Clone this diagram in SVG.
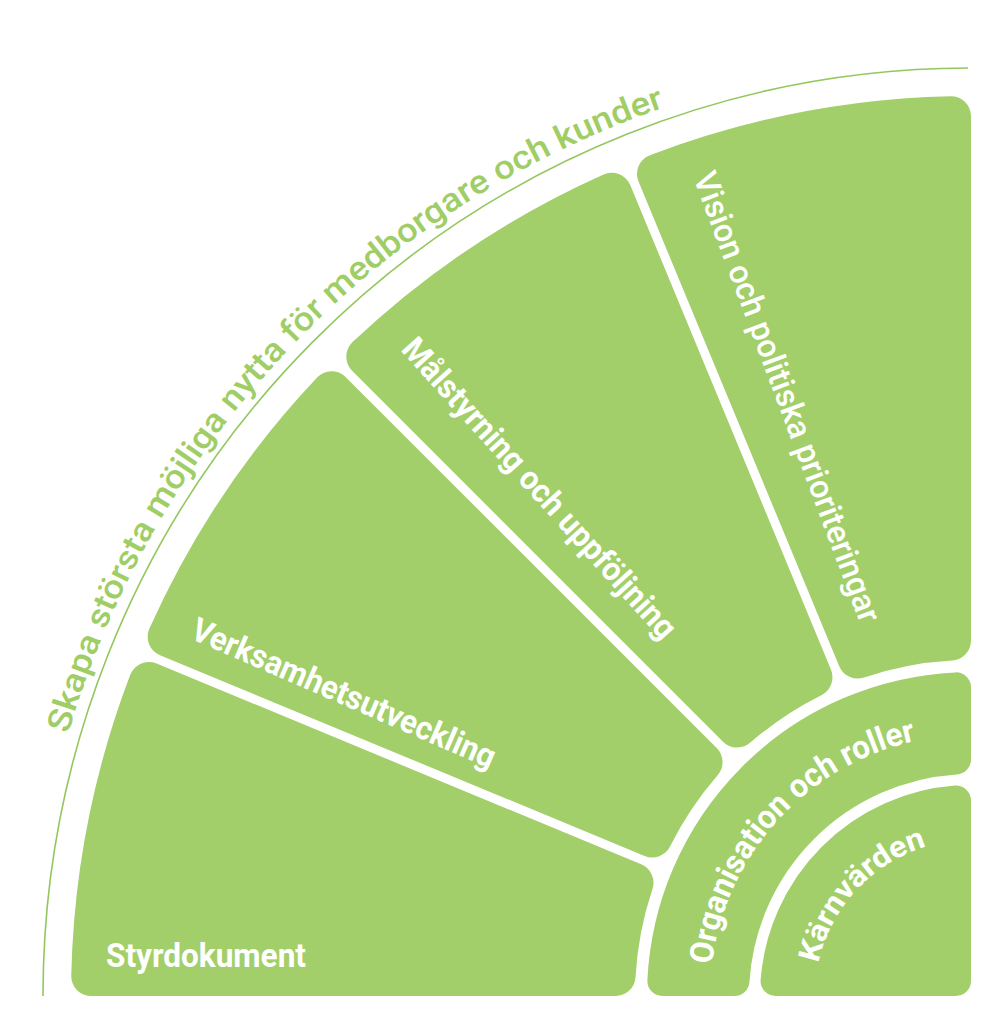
<svg xmlns="http://www.w3.org/2000/svg" width="1000" height="1014" viewBox="0 0 1000 1014">
  <style>
    .seg { fill: #a2cf69; stroke: #a2cf69; stroke-linejoin: round; }
    .outer { stroke-width: 40; }
    .inner { stroke-width: 30; }
    .lbl { fill: #ffffff; font-family: Roboto, "Liberation Sans", "DejaVu Sans", sans-serif; font-weight: 700; font-size: 33px; }
    .lbl-light { fill: #ffffff; font-family: Roboto, "Liberation Sans", "DejaVu Sans", sans-serif; font-weight: 500; font-size: 33px; }
    .motto { fill: #9fcd66; font-family: Roboto, "Liberation Sans", "DejaVu Sans", sans-serif; font-weight: 500; font-size: 33px; }
    .rim { fill: none; stroke: #93c75e; stroke-width: 1.6; }
  </style>
  <defs>
    <path id="p-outer" d="M 31 996 A 940 940 0 0 1 971 56"/>
    <path id="p-org" d="M 710 996 A 261 261 0 0 1 971 735"/>
    <path id="p-karn" d="M 815 996 A 156 156 0 0 1 971 840"/>
  </defs>
  <rect width="1000" height="1014" fill="#ffffff"/>

  <g id="rim">
    <path class="rim" d="M 43 996 A 928 928 0 0 1 968 68"/>
    <text class="motto"><textPath href="#p-outer" startOffset="265.6" textLength="899" lengthAdjust="spacingAndGlyphs">Skapa största möjliga nytta för medborgare och kunder</textPath></text>
  </g>

  <g id="styrdokument">
    <path class="seg outer" d="M 91.23 976 A 880 880 0 0 1 148.93 682.0 L 633.50 882.72 A 356 356 0 0 0 615.56 976 Z"/>
    <text class="lbl" x="106" y="967" textLength="200" lengthAdjust="spacingAndGlyphs">Styrdokument</text>
  </g>

  <g id="verksamhetsutveckling">
    <path class="seg outer" d="M 167.67 636.74 A 880 880 0 0 1 331.65 391.29 L 702.54 762.19 A 356 356 0 0 0 652.24 837.45 Z"/>
    <text class="lbl" transform="translate(189 638) rotate(23.5)" x="0" y="0" textLength="328" lengthAdjust="spacingAndGlyphs">Verksamhetsutveckling</text>
  </g>

  <g id="malstyrning">
    <path class="seg outer" d="M 366.29 356.65 A 880 880 0 0 1 611.74 192.67 L 812.45 677.24 A 356 356 0 0 0 737.19 727.54 Z"/>
    <text class="lbl" transform="translate(400 350) rotate(48)" x="0" y="0" textLength="392" lengthAdjust="spacingAndGlyphs">Målstyrning och uppföljning</text>
  </g>

  <g id="vision">
    <path class="seg outer" d="M 657.0 173.93 A 880 880 0 0 1 951 116.23 L 951 640.56 A 356 356 0 0 0 857.72 658.5 Z"/>
    <text class="lbl-light" transform="translate(693 177) rotate(69.5)" x="0" y="0" textLength="478" lengthAdjust="spacingAndGlyphs">Vision och politiska prioriteringar</text>
  </g>

  <g id="organisation">
    <path class="seg inner" d="M 662.36 981 A 309 309 0 0 1 956 687.36 L 956 759.48 A 237 237 0 0 0 734.48 981 Z"/>
    <text class="lbl"><textPath href="#p-org" startOffset="31.4" textLength="323" lengthAdjust="spacingAndGlyphs">Organisation och roller</textPath></text>
  </g>

  <g id="karnvarden">
    <path class="seg inner" d="M 775.57 981 A 196 196 0 0 1 956 800.57 L 956 981 Z"/>
    <text class="lbl" style="font-size:30px"><textPath href="#p-karn" startOffset="32.9" textLength="167" lengthAdjust="spacingAndGlyphs">Kärnvärden</textPath></text>
  </g>

  <g id="connectors"/>
</svg>
